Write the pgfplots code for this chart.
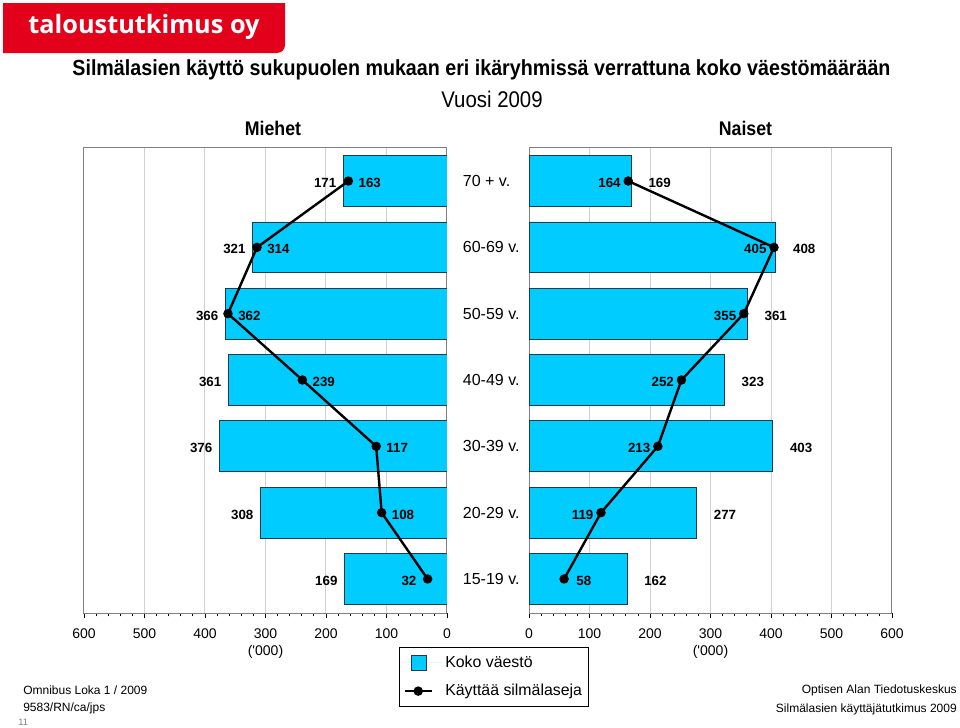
\documentclass[border=0pt]{standalone}
\usepackage{fontspec}
\setmainfont{Liberation Sans}
\newfontfamily\narrowfont[FakeStretch=0.9]{Liberation Sans}
\newfontfamily\logofont{Open Sans}
\usepackage{pgfplots}
\pgfplotsset{compat=1.18}

\definecolor{barcyan}{HTML}{00CCFF}
\definecolor{bardraw}{HTML}{1F3A48}
\definecolor{logored}{HTML}{E2001A}
\definecolor{gridgray}{HTML}{D0D0D0}
\definecolor{framegray}{HTML}{808080}

\newcommand\lblfont{\fontsize{10}{12}\selectfont\bfseries}

% one half of the pyramid
\pgfplotsset{pyr/.style={
    scale only axis, width=272.25pt, height=349.5pt,
    xmin=0, xmax=600, ymin=0.487, ymax=7.513,
    xtick={0,100,...,600}, minor x tick num=4,
    xtick pos=bottom, tick align=outside,
    major tick length=4pt, minor tick length=2.5pt,
    xmajorgrids, grid style={gridgray, line width=0.75pt},
    axis line style={framegray, line width=0.75pt},
    x tick style={black, line width=0.6pt},
    xticklabel style={font=\fontsize{10.5}{12}\selectfont, yshift=-4pt},
    /pgf/number format/assume math mode=true,
    xlabel={(\textquotesingle000)},
    xlabel style={font=\fontsize{10.5}{12}\selectfont, yshift=1.25pt},
}}
\pgfplotsset{
    bar/.style={xbar, bar width=0.767, fill=barcyan, draw=bardraw, line width=0.6pt},
    glass/.style={black, line width=1.8pt, mark=*, mark size=2.6pt},
    lbl/.style={draw=none, mark=none, nodes near coords, point meta=x,
        every node near coord/.append style={font=\lblfont, inner sep=0pt, anchor=#1, yshift=-1.5pt}},
    barlegend/.style={legend image code/.code={
        \draw[fill=barcyan, draw=bardraw, line width=0.6pt] (0.185cm,-0.2cm) rectangle (0.585cm,0.2cm);
        \path[draw=none] (0cm,0cm) -- (1.0cm,0cm);}},
    glasslegend/.style={legend image code/.code={
        \draw[##1, mark=none] (0cm,0cm) -- (0.714cm,0cm);
        \path[##1, only marks] plot coordinates {(0.357cm,0cm)};
        \path[draw=none] (0cm,0cm) -- (1.0cm,0cm);}},
}

\begin{document}
\begin{tikzpicture}[x=0.75pt,y=-0.75pt]
\path[use as bounding box] (0,0) rectangle (960,728);

% logo
\fill[logored] (3,3) -- (285,3) -- (285,45) arc[start angle=0, end angle=90, radius=8] -- (3,53) -- cycle;
\node[white, font=\logofont\fontsize{19}{22}\selectfont\bfseries] at (144,27) {taloustutkimus oy};

% titles
\node[font=\narrowfont\fontsize{16.4}{19}\selectfont\bfseries] at (481.5,70) {Silmälasien käyttö sukupuolen mukaan eri ikäryhmissä verrattuna koko väestömäärään};
\node[font=\narrowfont\fontsize{17}{19}\selectfont] at (492,99) {Vuosi 2009};
\node[font=\narrowfont\fontsize{14.8}{17}\selectfont\bfseries] at (273,128) {Miehet};
\node[font=\narrowfont\fontsize{14.8}{17}\selectfont\bfseries] at (745.5,128) {Naiset};

% Miehet
\begin{axis}[pyr, at={(63pt,-459.75pt)}, anchor=south west, x dir=reverse, ytick=\empty,
    legend style={at={(axis description cs:0.8678,-0.073)}, anchor=north west,
        draw=black, line width=0.75pt, font=\fontsize{11.9}{14}\selectfont,
        legend cell align=left, row sep=7pt, inner xsep=3pt, inner ysep=4.5pt}]
\addplot[bar, barlegend]
    coordinates {(169,1) (308,2) (376,3) (361,4) (366,5) (321,6) (171,7)};
\addlegendentry{Koko väestö}
\addplot[glass, glasslegend]
    coordinates {(32,1) (108,2) (117,3) (239,4) (362,5) (314,6) (163,7)};
\addlegendentry{Käyttää silmälaseja}
\addplot[lbl=east, forget plot, every node near coord/.append style={xshift=-5.25pt}]
    coordinates {(169,1) (308,2) (376,3) (361,4) (366,5) (321,6) (171,7)};
\addplot[lbl=west, forget plot, every node near coord/.append style={xshift=7.5pt}]
    coordinates {(108,2) (117,3) (239,4) (362,5) (314,6) (163,7)};
\addplot[lbl=east, forget plot, every node near coord/.append style={xshift=-8.25pt}]
    coordinates {(32,1)};
\end{axis}

% Naiset
\begin{axis}[pyr, at={(396.75pt,-459.75pt)}, anchor=south west,
    ytick={1,...,7},
    yticklabels={15-19 v.,20-29 v.,30-39 v.,40-49 v.,50-59 v.,60-69 v.,70 + v.},
    ytick style={draw=none},
    yticklabel style={anchor=west, inner sep=0pt, xshift=-45.75pt, font=\fontsize{12}{14}\selectfont}]
\addplot[bar] coordinates {(162,1) (277,2) (403,3) (323,4) (361,5) (408,6) (169,7)};
\addplot[glass] coordinates {(58,1) (119,2) (213,3) (252,4) (355,5) (405,6) (164,7)};
\addplot[lbl=west, every node near coord/.append style={xshift=12.75pt}]
    coordinates {(162,1) (277,2) (403,3) (323,4) (361,5) (408,6) (169,7)};
\addplot[lbl=east, every node near coord/.append style={xshift=-5.5pt}]
    coordinates {(119,2) (213,3) (252,4) (355,5) (405,6) (164,7)};
\addplot[lbl=west, every node near coord/.append style={xshift=9pt}]
    coordinates {(58,1)};
\end{axis}

% footer
\node[anchor=west, inner sep=0pt, font=\fontsize{9}{11}\selectfont] at (23,690) {Omnibus Loka 1 / 2009};
\node[anchor=west, inner sep=0pt, font=\fontsize{9}{11}\selectfont] at (23,708) {9583/RN/ca/jps};
\node[anchor=west, inner sep=0pt, text=gray, font=\fontsize{7}{8}\selectfont] at (18,722) {11};
\node[anchor=east, inner sep=0pt, font=\fontsize{9}{11}\selectfont] at (957,690) {Optisen Alan Tiedotuskeskus};
\node[anchor=east, inner sep=0pt, font=\fontsize{9}{11}\selectfont] at (957,709) {Silmälasien käyttäjätutkimus 2009};
\end{tikzpicture}
\end{document}
